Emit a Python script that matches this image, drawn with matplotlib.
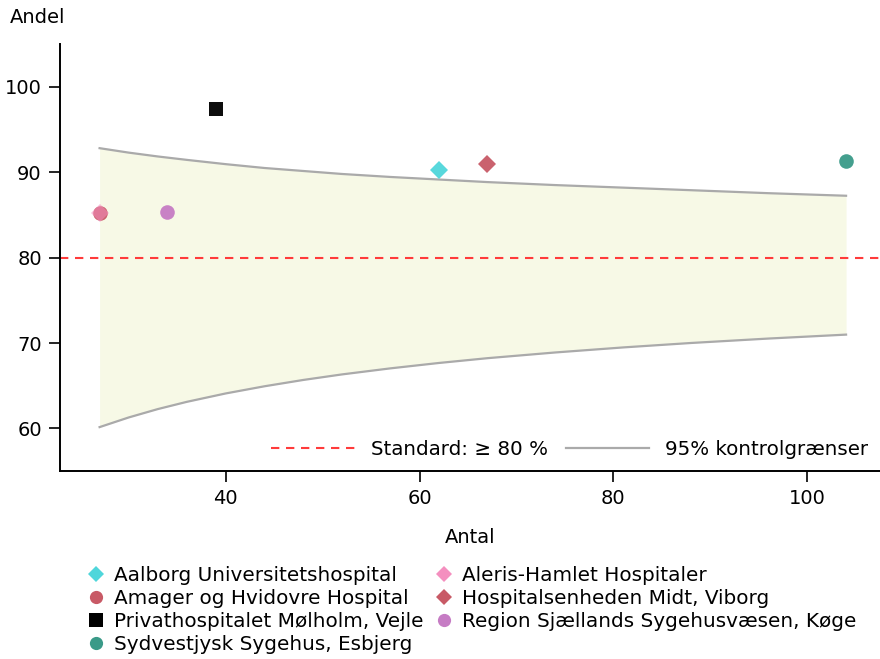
import matplotlib
matplotlib.use("Agg")
import matplotlib.pyplot as plt
from matplotlib.lines import Line2D

plt.rcParams['font.family'] = ['DejaVu Sans']

# Data
hospitals = ["Aalborg Universitetshospital", "Amager og Hvidovre Hospital",
             "Privathospitalet Mølholm, Vejle", "Sydvestjysk Sygehus, Esbjerg",
             "Aleris-Hamlet Hospitaler", "Hospitalsenheden Midt, Viborg",
             "Region Sjællands Sygehusvæsen, Køge"]
antal = [62, 27, 39, 104, 27, 67, 34]
andel = [90.3, 85.2, 97.4, 91.3, 85.2, 91.0, 85.3]
markers = ["D", "o", "s", "o", "D", "D", "o"]
colors = ["#4fd6db", "#c85a66", "#000000", "#3a9a88", "#f48fbf", "#c85a66", "#c67cc4"]
# draw order (Aleris drawn over Amager)
draw_order = [1, 4, 6, 2, 0, 5, 3]

limit_n = [27, 30, 33, 36, 40, 44, 48, 52, 57, 62, 67, 74, 81, 88, 96, 104]
upper_limit = [92.82, 92.3, 91.85, 91.45, 90.95, 90.5, 90.15, 89.8, 89.45, 89.15,
               88.85, 88.5, 88.2, 87.9, 87.55, 87.25]
lower_limit = [60.16, 61.29, 62.27, 63.12, 64.10, 64.94, 65.68, 66.33, 67.04, 67.67,
               68.23, 68.90, 69.49, 70.01, 70.53, 70.99]

standard = 80

fig = plt.figure(figsize=(8.8, 6.59), dpi=100)
ax = fig.add_axes([0.068, 0.285, 0.932, 0.648])

ax.fill_between(limit_n, lower_limit, upper_limit, color="#f7f9e6", zorder=1, linewidth=0)
ax.plot(limit_n, upper_limit, color="#aaaaaa", lw=1.6, zorder=2)
ax.plot(limit_n, lower_limit, color="#aaaaaa", lw=1.6, zorder=2)
ax.axhline(standard, color="#ff3b3b", lw=1.5, ls=(0, (4, 3.2)), zorder=2)

for i in draw_order:
    if markers[i] == "D":
        ms = 9
    elif markers[i] == "s":
        ms = 9.5
    else:
        ms = 10.5
    ax.plot(antal[i], andel[i], marker=markers[i], color=colors[i], ms=ms,
            ls="none", markeredgewidth=0, alpha=0.95 if i != 4 else 0.55, zorder=3)

ax.set_xlim(22.9, 107.5)
ax.set_ylim(55, 105)
ax.set_xticks([40, 60, 80, 100])
ax.set_yticks([60, 70, 80, 90, 100])
for s in ["top", "right"]:
    ax.spines[s].set_visible(False)
for s in ["left", "bottom"]:
    ax.spines[s].set_linewidth(1.4)
ax.tick_params(axis="both", length=8, width=1.2, labelsize=14, pad=5, direction="out")
ax.set_xlabel("Antal", fontsize=14, labelpad=14)
fig.text(0.011, 0.974, "Andel", fontsize=14, va="center", ha="left")

h1 = Line2D([], [], color="#ff3b3b", lw=1.5, ls=(0, (4, 3.2)))
h2 = Line2D([], [], color="#aaaaaa", lw=1.6)
ax.legend([h1, h2], ["Standard: ≥ 80 %", "95% kontrolgrænser"], loc="lower right",
          ncol=2, frameon=False, fontsize=14.3, handlelength=4.2, columnspacing=0.9,
          handletextpad=0.8, borderaxespad=0.2, bbox_to_anchor=(1.0, 0.0))

handles = [Line2D([], [], marker=m, color=c, ls="none", ms=9.5 if m != "D" else 8.5,
                  markeredgewidth=0) for m, c in zip(markers, colors)]
fig.legend(handles, hospitals, loc="upper left", bbox_to_anchor=(0.099, 0.141),
           ncol=2, frameon=False, fontsize=14.4, handlelength=0.9, handletextpad=0.45,
           columnspacing=0.55, labelspacing=0.2, borderaxespad=0, borderpad=0)

fig.savefig("out.png", dpi=100)
